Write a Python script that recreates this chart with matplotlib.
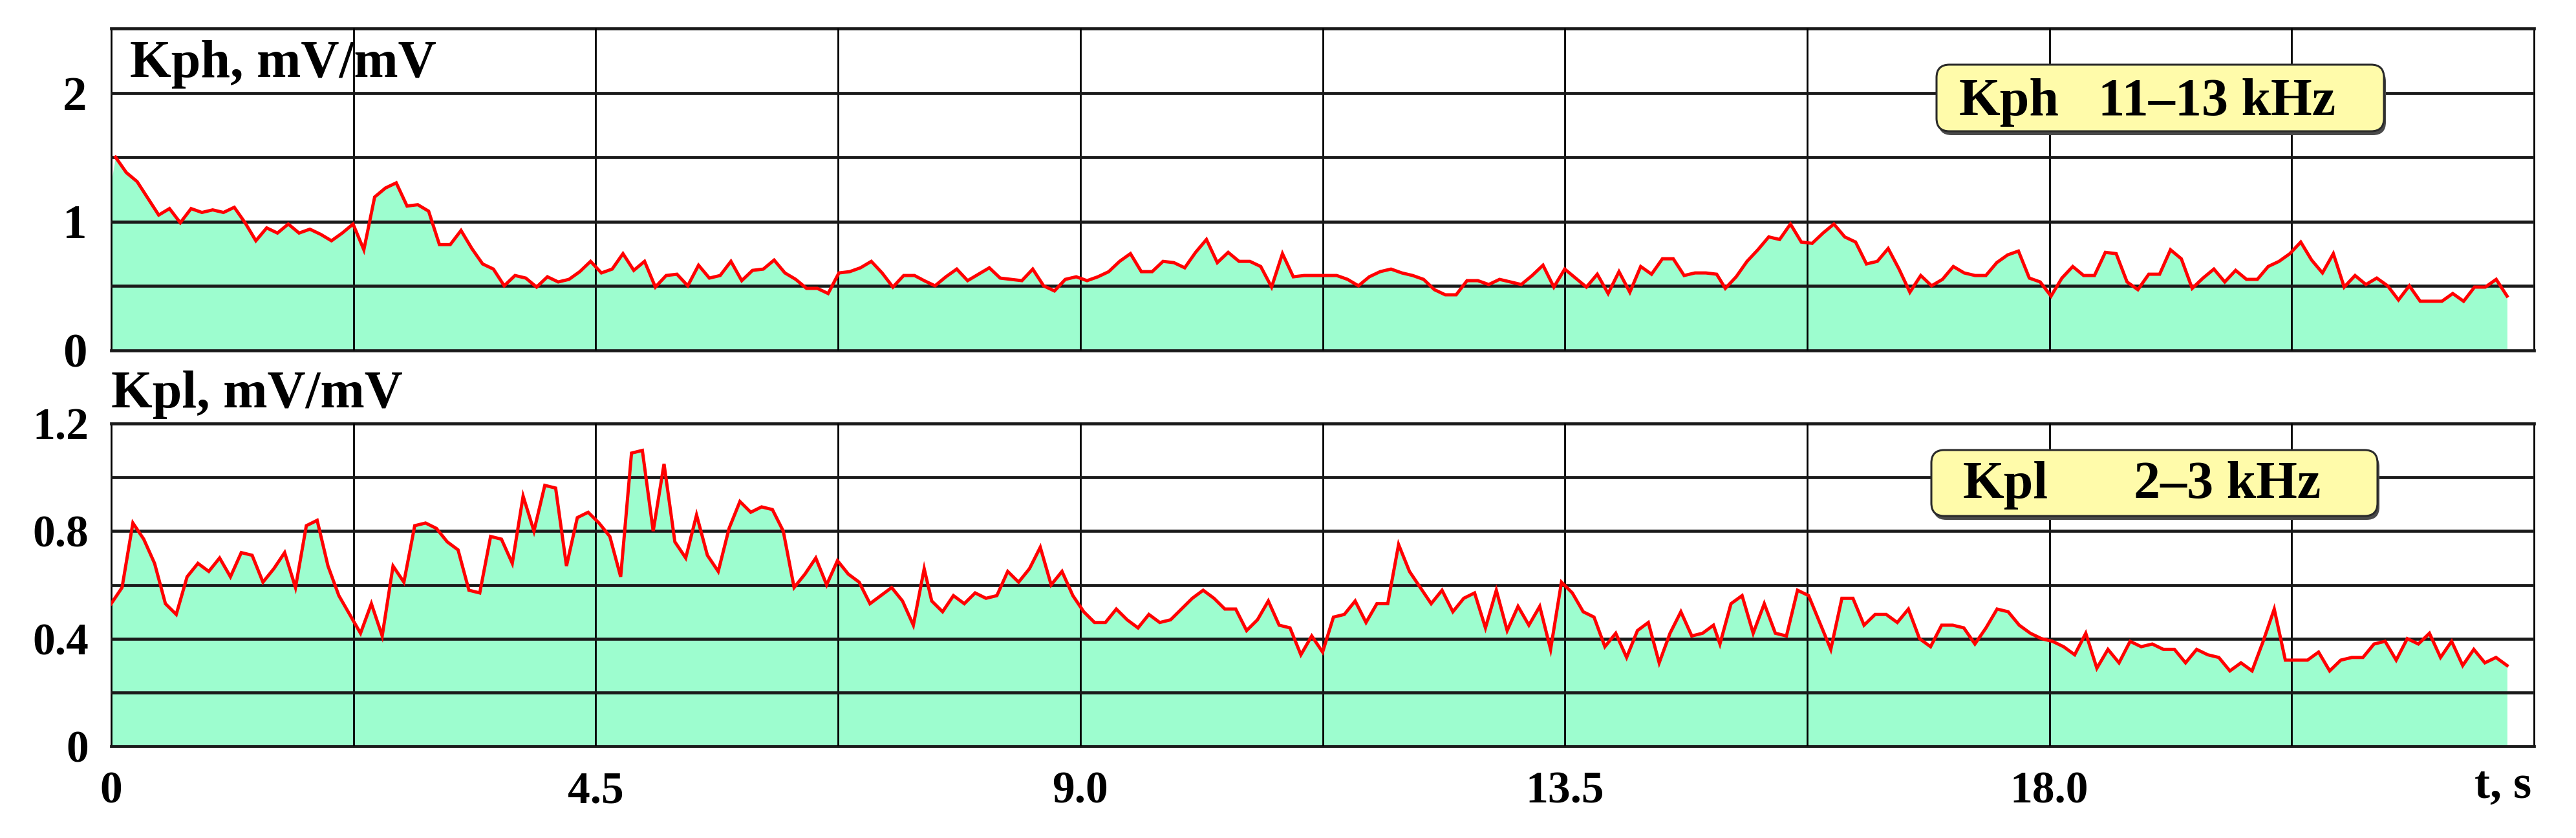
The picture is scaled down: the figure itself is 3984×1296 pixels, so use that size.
import numpy as np
import matplotlib
matplotlib.use('Agg')
import matplotlib.pyplot as plt
from matplotlib.patches import FancyBboxPatch

plt.rcParams['font.family'] = ['Liberation Serif', 'DejaVu Serif']
plt.rcParams['font.weight'] = 'bold'

# Kph (11-13 kHz) in three pieces
kph_a = [1.50, 1.38, 1.31, 1.18, 1.05, 1.10, 0.99, 1.10, 1.07, 1.09,
         1.07, 1.11, 0.99, 0.85, 0.95, 0.91, 0.98, 0.91, 0.94, 0.90,
         0.85, 0.91, 0.98, 0.78, 1.19, 1.26, 1.30, 1.12, 1.13, 1.08,
         0.82, 0.82, 0.93, 0.79, 0.67, 0.63, 0.50, 0.58, 0.56, 0.49,
         0.57, 0.53, 0.55, 0.61, 0.69, 0.60, 0.63, 0.75, 0.62, 0.69,
         0.49, 0.58, 0.59, 0.50, 0.66, 0.56, 0.58, 0.69, 0.54, 0.62,
         0.63, 0.70, 0.60, 0.55, 0.48, 0.48, 0.44, 0.60, 0.61, 0.64,
         0.69, 0.60, 0.49, 0.58, 0.58]
kph_b = [0.54, 0.50, 0.57, 0.63, 0.54, 0.59, 0.64, 0.56, 0.55, 0.54,
         0.63, 0.50, 0.46, 0.55, 0.57, 0.54, 0.57, 0.61, 0.69, 0.75,
         0.61, 0.61, 0.69, 0.68, 0.64, 0.76, 0.86, 0.68, 0.76, 0.69,
         0.69, 0.65, 0.49, 0.75, 0.57, 0.58, 0.58, 0.58, 0.58, 0.55,
         0.50, 0.57, 0.61, 0.63, 0.60, 0.58, 0.55, 0.47, 0.43, 0.43,
         0.54, 0.54, 0.51, 0.55, 0.53, 0.51, 0.58, 0.66, 0.49, 0.63,
         0.56, 0.49, 0.59, 0.44, 0.61, 0.45, 0.65, 0.59, 0.71, 0.71,
         0.58, 0.60, 0.60, 0.59]
kph_c = [0.48, 0.57, 0.69, 0.78, 0.88, 0.86, 0.98, 0.84, 0.83, 0.91,
         0.98, 0.88, 0.84, 0.67, 0.69, 0.79, 0.63, 0.45, 0.58, 0.50,
         0.55, 0.65, 0.60, 0.58, 0.58, 0.68, 0.74, 0.77, 0.56, 0.53,
         0.42, 0.56, 0.65, 0.58, 0.58, 0.76, 0.75, 0.53, 0.47, 0.59,
         0.59, 0.78, 0.71, 0.48, 0.56, 0.63, 0.53, 0.62, 0.55, 0.55,
         0.65, 0.69, 0.75, 0.84, 0.70, 0.60, 0.75, 0.49, 0.58, 0.51,
         0.56, 0.50, 0.39, 0.50, 0.38, 0.38, 0.38, 0.44, 0.38, 0.49,
         0.49, 0.55, 0.42]
kph_spans = [(0.04, 7.46), (7.55, 14.91), (14.99, 22.25)]

# Kpl (2-3 kHz)
kpl_a = [0.53, 0.59, 0.83, 0.77, 0.68, 0.53, 0.49, 0.63, 0.68, 0.65,
         0.70, 0.63, 0.72, 0.71, 0.61, 0.66, 0.72, 0.59, 0.82, 0.84,
         0.67, 0.56, 0.49, 0.42, 0.53, 0.41, 0.67, 0.61, 0.82, 0.83,
         0.81, 0.76, 0.73, 0.58, 0.57, 0.78, 0.77, 0.68, 0.93, 0.80,
         0.97, 0.96, 0.67, 0.85, 0.87, 0.83, 0.78, 0.63, 1.09, 1.10,
         0.80, 1.05, 0.76, 0.70, 0.86, 0.71, 0.65, 0.81, 0.91, 0.87,
         0.89, 0.88, 0.80, 0.59, 0.64, 0.70, 0.60, 0.69, 0.64, 0.61,
         0.53, 0.56, 0.59, 0.54, 0.45, 0.66]
kpl_b = [0.54, 0.50, 0.56, 0.53, 0.57, 0.55, 0.56, 0.65, 0.61, 0.66,
         0.74, 0.60, 0.65, 0.56, 0.50, 0.46, 0.46, 0.51, 0.47, 0.44,
         0.49, 0.46, 0.47, 0.51, 0.55, 0.58, 0.55, 0.51, 0.51, 0.43,
         0.47, 0.54, 0.45, 0.44, 0.34, 0.41, 0.35, 0.48, 0.49, 0.54,
         0.46, 0.53, 0.53, 0.75, 0.65, 0.59, 0.53, 0.58, 0.50, 0.55,
         0.57, 0.44, 0.58, 0.43, 0.52, 0.45, 0.52, 0.36, 0.61, 0.57,
         0.50, 0.48, 0.37, 0.42, 0.33, 0.43, 0.46, 0.31, 0.42, 0.50,
         0.41, 0.42, 0.45]
kpl_c = [0.38, 0.53, 0.56, 0.42, 0.53, 0.42, 0.41, 0.58, 0.56, 0.46,
         0.36, 0.55, 0.55, 0.45, 0.49, 0.49, 0.46, 0.51, 0.40, 0.37,
         0.45, 0.45, 0.44, 0.38, 0.44, 0.51, 0.50, 0.45, 0.42, 0.40,
         0.39, 0.37, 0.34, 0.42, 0.29, 0.36, 0.31, 0.39, 0.37, 0.38,
         0.36, 0.36, 0.31, 0.36, 0.34, 0.33, 0.28, 0.31, 0.28, 0.39,
         0.51, 0.32, 0.32, 0.32, 0.35, 0.28, 0.32, 0.33, 0.33, 0.38,
         0.39, 0.32, 0.40, 0.38, 0.42, 0.33, 0.39, 0.30, 0.36, 0.31,
         0.33, 0.30]
kpl_spans = [(0.0, 7.55), (7.62, 14.88), (14.94, 22.25)]

x_ticks = [0, 4.5, 9.0, 13.5, 18.0]
x_labels = ['0', '4.5', '9.0', '13.5', '18.0']
kph_yticks = [0, 1, 2]
kph_ylabels = ['0', '1', '2']
kpl_yticks = [0, 0.4, 0.8, 1.2]
kpl_ylabels = ['0', '0.4', '0.8', '1.2']


def series(parts, spans):
    t = np.concatenate([np.linspace(a, b, len(p)) for p, (a, b) in zip(parts, spans)])
    return t, np.concatenate(parts)


W, H = 3984, 1296
fig = plt.figure(figsize=(W / 100, H / 100), dpi=100)
ax1 = fig.add_axes([172 / W, 1 - 541.5 / H, 3747 / W, 497.5 / H])
ax2 = fig.add_axes([172 / W, 1 - 1154 / H, 3747 / W, 499 / H])


def panel(ax, t, v, ymax, ystep):
    # fill reaches the left frame, as in the original
    ax.fill_between(np.r_[0, t], 0, np.r_[v[0] * 0.87, v], color='#9dfdcf', lw=0, zorder=1)
    ax.plot(t, v, color='#ff0000', lw=3.6, zorder=4, solid_joinstyle='miter')
    ax.set_xlim(0, 22.5)
    ax.set_ylim(0, ymax)
    for x in np.arange(2.25, 22.4, 2.25):
        ax.axvline(x, color='black', lw=2.0, zorder=3)
    for y in np.arange(ystep, ymax - 1e-6, ystep):
        ax.axhline(y, color='#1a1a1a', lw=3.4, zorder=3)
    for s in ['top', 'bottom']:
        ax.spines[s].set_linewidth(3.4)
        ax.spines[s].set_color('#1a1a1a')
    for s in ['left', 'right']:
        ax.spines[s].set_linewidth(2.0)
    ax.tick_params(length=0)


t1, v1 = series([kph_a, kph_b, kph_c], kph_spans)
t2, v2 = series([kpl_a, kpl_b, kpl_c], kpl_spans)
panel(ax1, t1, v1, 2.5, 0.5)
panel(ax2, t2, v2, 1.2, 0.2)

ax1.set_xticks([])
ax1.set_yticks(kph_yticks, kph_ylabels, fontsize=54, fontweight='bold')
ax1.tick_params(axis='y', pad=27)
ax2.set_yticks(kpl_yticks, kpl_ylabels, fontsize=50, fontweight='bold')
ax2.tick_params(axis='y', pad=25)
ax2.set_xticks(x_ticks, x_labels, fontsize=50, fontweight='bold')
ax2.tick_params(axis='x', pad=28)

ax1.text(0.0077, 0.849, 'Kph, mV/mV', transform=ax1.transAxes, fontsize=59,
         fontweight='bold', ha='left', va='baseline', zorder=6)
ax2.text(0.0, 1.05, 'Kpl, mV/mV', transform=ax2.transAxes, fontsize=59,
         fontweight='bold', ha='left', va='baseline')
ax2.text(0.999, -0.158, 't, s', transform=ax2.transAxes, fontsize=52,
         fontweight='bold', ha='right', va='baseline')


def tag(box, name, x_name, band, x_band, base):
    x0, y0, x1, y1 = box
    r = 20 / W
    sh = FancyBboxPatch(((x0 + 3) / W, 1 - (y1 + 6) / H), (x1 - x0) / W, (y1 - y0) / H,
                        boxstyle='round,pad=0,rounding_size=%f' % r, mutation_aspect=W / H,
                        transform=fig.transFigure, fc='#4a4a4a', ec='none', zorder=5)
    bx = FancyBboxPatch((x0 / W, 1 - y1 / H), (x1 - x0) / W, (y1 - y0) / H,
                        boxstyle='round,pad=0,rounding_size=%f' % r, mutation_aspect=W / H,
                        transform=fig.transFigure, fc='#fffbaa', ec='#2a2a2a', lw=2.2, zorder=6)
    fig.add_artist(sh)
    fig.add_artist(bx)
    fig.text(x_name / W, 1 - base / H, name, fontsize=59, fontweight='bold',
             ha='left', va='baseline', zorder=7)
    fig.text(x_band / W, 1 - base / H, band, fontsize=59, fontweight='bold',
             ha='left', va='baseline', zorder=7)


tag((2995, 100, 3687, 203), 'Kph', 3030, '11–13 kHz', 3245, 178)
tag((2987, 696, 3677, 798), 'Kpl', 3036, '2–3 kHz', 3300, 770)

fig.savefig('out.png', dpi=100, facecolor='white')
